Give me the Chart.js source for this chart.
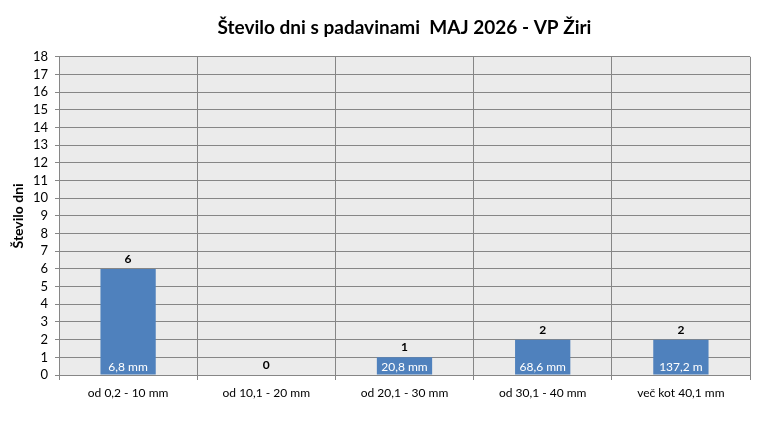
<!DOCTYPE html>
<html>
<head>
<meta charset="utf-8">
<script src="https://cdn.jsdelivr.net/npm/chart.js@4"></script>
<style>
  html, body { margin: 0; padding: 0; background: #fff; }
  #wrap { width: 770px; height: 439px; }
</style>
</head>
<body>
<div id="wrap"><canvas id="c" width="770" height="439"></canvas></div>
<script>
// data
const categories = ['od 0,2 - 10 mm', 'od 10,1 - 20 mm', 'od 20,1 - 30 mm', 'od 30,1 - 40 mm', 'več kot 40,1 mm'];
const days = [6, 0, 1, 2, 2];
const mmLabels = ['6,8 mm', '', '20,8 mm', '68,6 mm', '137,2 m'];
const yMin = 0, yMax = 18, yStep = 1;

const FONT = 'Lato, "Open Sans", sans-serif';
const GRID = '#868686';

// value above each bar + precipitation sum inside bar
const barLabels = {
  id: 'barLabels',
  afterDatasetsDraw(chart) {
    const ctx = chart.ctx;
    const meta = chart.getDatasetMeta(0);
    const base = chart.scales.y.getPixelForValue(0);
    ctx.save();
    ctx.textAlign = 'center';
    ctx.textBaseline = 'middle';
    meta.data.forEach((bar, i) => {
      ctx.fillStyle = '#000';
      ctx.font = 'bold 12px ' + FONT;
      ctx.fillText(String(days[i]), bar.x, bar.y - 10);
      if (mmLabels[i]) {
        ctx.fillStyle = '#fff';
        ctx.font = '12px ' + FONT;
        ctx.fillText(mmLabels[i], bar.x, base - 8);
      }
    });
    ctx.restore();
  }
};

// gray plot background
const plotBg = {
  id: 'plotBg',
  beforeDraw(chart) {
    const a = chart.chartArea;
    chart.ctx.save();
    chart.ctx.fillStyle = '#ebebeb';
    chart.ctx.fillRect(a.left, a.top, a.right - a.left, a.bottom - a.top);
    chart.ctx.restore();
  }
};

new Chart(document.getElementById('c'), {
  type: 'bar',
  data: {
    labels: categories,
    datasets: [{
      data: days,
      backgroundColor: '#4f81bd',
      barPercentage: 0.4,
      categoryPercentage: 1
    }]
  },
  options: {
    responsive: false,
    animation: false,
    layout: { padding: { left: 0, right: 20, top: 0, bottom: 0 } },
    plugins: {
      legend: { display: false },
      tooltip: { enabled: false },
      title: {
        display: true,
        fullSize: false,
        text: 'Število dni s padavinami  MAJ 2026 - VP Žiri',
        color: '#000',
        font: { family: FONT, size: 19, weight: 'bold' },
        padding: { top: 16, bottom: 18 }
      }
    },
    scales: {
      x: {
        grid: { color: GRID, lineWidth: 1, tickLength: 5, offset: true },
        border: { color: GRID, width: 1 },
        ticks: { color: '#000', font: { family: FONT, size: 12 }, padding: 6, maxRotation: 0 },
        afterFit(s) { s.height = 64; }
      },
      y: {
        min: yMin,
        max: yMax,
        grid: { color: GRID, lineWidth: 1, tickLength: 4 },
        border: { color: GRID, width: 1 },
        ticks: { stepSize: yStep, autoSkip: false, color: '#000', font: { family: FONT, size: 13 }, padding: 7 },
        title: {
          display: true,
          text: 'Število dni',
          color: '#000',
          font: { family: FONT, size: 14, weight: 'bold' },
          padding: { top: 10, bottom: 0 }
        },
        afterFit(s) { s.width = 59; }
      }
    }
  },
  plugins: [plotBg, barLabels]
});
</script>
</body>
</html>
